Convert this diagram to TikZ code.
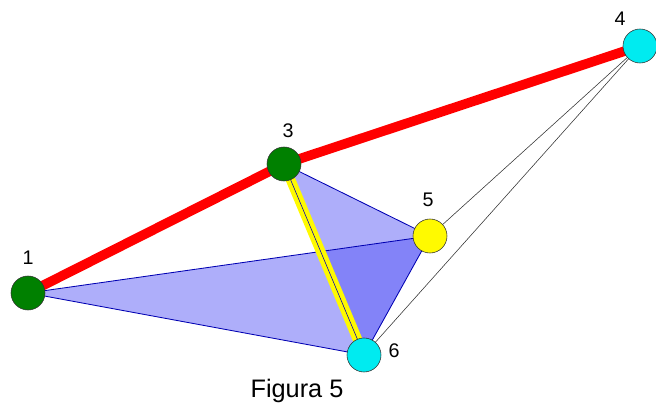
\documentclass[tikz,border=0pt]{standalone}
\usepackage{fontspec}
\setmainfont{Liberation Sans}
\usepackage{tikz}
\usetikzlibrary{calc}

\definecolor{ptgreen}{RGB}{0,128,0}
\definecolor{ptcyan}{RGB}{0,235,240}
\definecolor{ptyellow}{RGB}{255,250,0}
\definecolor{faceblue}{RGB}{85,85,245}

\tikzset{
    pt/.style={circle, draw=black!80, thin, minimum size=0.85cm, inner sep=0pt},
    lbl/.style={font=\fontsize{14}{16}\selectfont},
}

\begin{document}
\begin{tikzpicture}[x=0.025cm, y=-0.025cm]
            \useasboundingbox (0,0) rectangle (656,411);
            \coordinate (P1) at (28,293);
            \coordinate (P3) at (284,164);
            \coordinate (P4) at (640,46);
            \coordinate (P5) at (430,236);
            \coordinate (P6) at (364,355);
            \fill[faceblue, opacity=0.48] (P1) -- (P5) -- (P6) -- cycle;
            \fill[faceblue, opacity=0.48] (P3) -- (P5) -- (P6) -- cycle;
            \draw[blue!70!black, semithick] (P1) -- (P5) -- (P6) -- cycle;
            \draw[blue!70!black, semithick] (P3) -- (P5);
            \draw[black!80, thin] (P4) -- (P5);
            \draw[black!80, thin] (P4) -- (P6);
            \draw[ptyellow, line width=2.4mm] (P3) -- (P6);
            \draw[blue!70!black, thin] (P3) -- (P6);
            \draw[red, line width=2.4mm, line join=round] (P1) -- (P3) -- (P4);
            \node[pt, fill=ptgreen] (n1) at (P1) {};
            \node[pt, fill=ptgreen] (n3) at (P3) {};
            \node[pt, fill=ptcyan] (n4) at (P4) {};
            \node[pt, fill=ptyellow] (n5) at (P5) {};
            \node[pt, fill=ptcyan] (n6) at (P6) {};
            \node[lbl] at (28,258) {1};
            \node[lbl] at (288,131) {3};
            \node[lbl] at (620,19) {4};
            \node[lbl] at (428,200) {5};
            \node[lbl] at (394,351) {6};
            \node[font=\fontsize{18}{21}\selectfont] at (297,391) {Figura 5};
        \end{tikzpicture}
\end{document}
